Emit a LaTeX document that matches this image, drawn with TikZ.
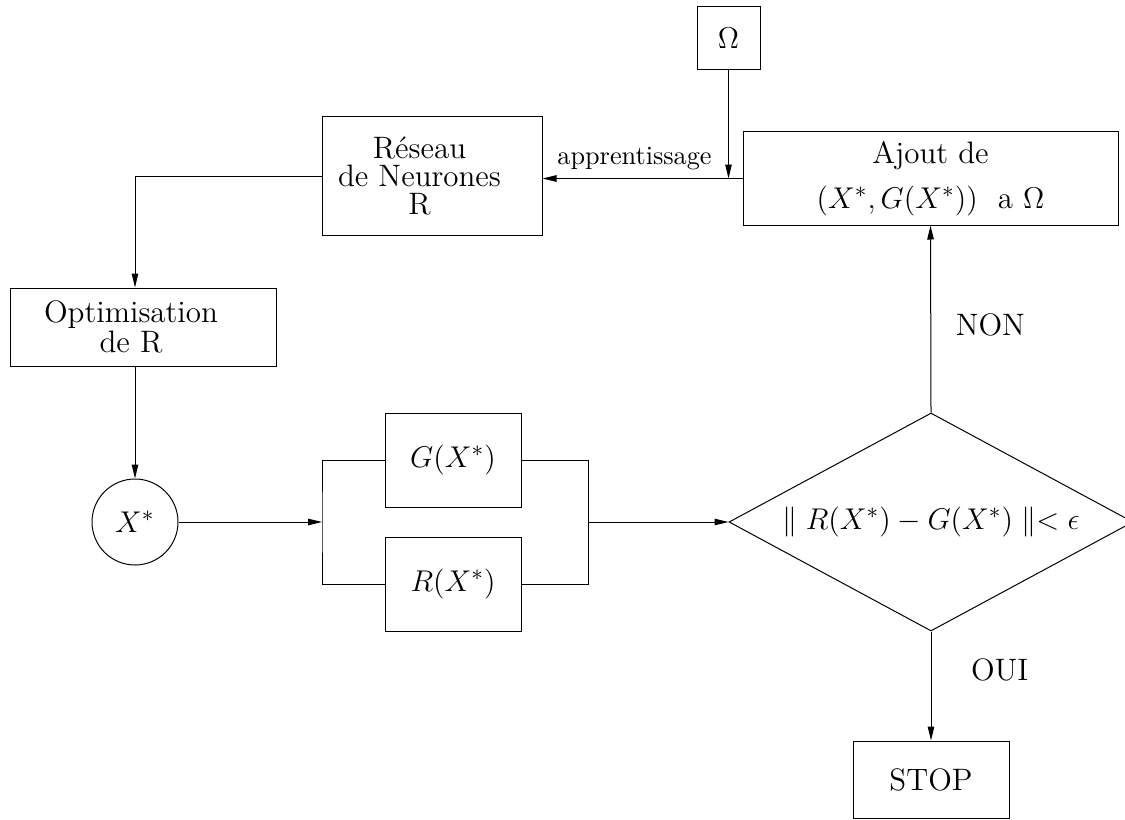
\documentclass[tikz,border=0pt]{standalone}
\usepackage{amsmath}
\usetikzlibrary{shapes.geometric,arrows.meta}

\begin{document}
\begin{tikzpicture}[x=0.4pt,y=-0.4pt,
  every node/.style={font=\fontsize{12.4}{12}\selectfont},
  boite/.style={draw,line width=0.4pt,inner sep=0pt,align=center},
  fleche/.style={line width=0.4pt,-{Triangle[length=5.6pt,width=2.6pt]}},
  trait/.style={line width=0.4pt}]
  \useasboundingbox (0,0) rectangle (1125,819);
  % boites
  \node[boite,minimum width=25.2pt,minimum height=25.2pt] (omega) at (728.5,38.5) {$\Omega$};
  \node[boite,minimum width=88pt,minimum height=47.6pt] (reseau) at (432,176) {};
  \node[align=center] (reseautxt) at ([xshift=-5pt]reseau.center) {R\'eseau\\[-0.8pt]de Neurones\\[-0.8pt]R};
  \node[boite,minimum width=150pt,minimum height=37.2pt] (ajout) at (930.5,178.5) {Ajout de\\[6pt]$(X^*,G(X^*))$~~a $\Omega$};
  \node[boite,minimum width=106pt,minimum height=31.2pt] (optim) at (143.5,327) {};
  \node[align=center] (optimtxt) at ([xshift=-5pt]optim.center) {Optimisation\\de R};
  \node[boite,circle,minimum size=34.4pt] (xstar) at (135,522) {$X^*$};
  \node[boite,minimum width=54.4pt,minimum height=37.6pt] (gx) at (453,460) {$G(X^*)$};
  \node[boite,minimum width=54.4pt,minimum height=37.6pt] (rx) at (453,584) {$R(X^*)$};
  \node[boite,diamond,aspect=1.85,minimum width=161.6pt,minimum height=87.2pt] (test) at (931,522) {$\parallel R(X^*)-G(X^*)\parallel<\epsilon$};
  \node[boite,minimum width=62.4pt,minimum height=30.8pt] (stop) at (931,779.5) {STOP};
  % liaisons
  \coordinate (coin) at (xstar.north |- reseau.west);
  \coordinate (forkL) at (322,522);
  \coordinate (forkR) at (588,522);
  \draw[fleche] (ajout.west) -- (ajout.west -| reseau.east)
    node[pos=0.54,above,font=\fontsize{10.5}{12}\selectfont] {apprentissage};
  \draw[fleche] (omega.south) -- (omega.south |- ajout.west);
  \draw[fleche] (reseau.west) -- (coin) -- (coin |- optim.north);
  \draw[fleche] (xstar.north |- optim.south) -- (xstar.north);
  \draw[fleche] (xstar.east) -- (forkL);
  \draw[trait] (gx.west) -| (forkL) |- (rx.west);
  \draw[trait] (gx.east) -| (forkR) |- (rx.east);
  \draw[fleche] (forkR) -- (test.west);
  \draw[fleche] (test.north) -- (ajout.south)
    node[pos=0.47,right=6.5pt] {NON};
  \draw[fleche] (test.south) -- (stop.north)
    node[pos=0.35,right=12.5pt] {OUI};
\end{tikzpicture}
\end{document}
